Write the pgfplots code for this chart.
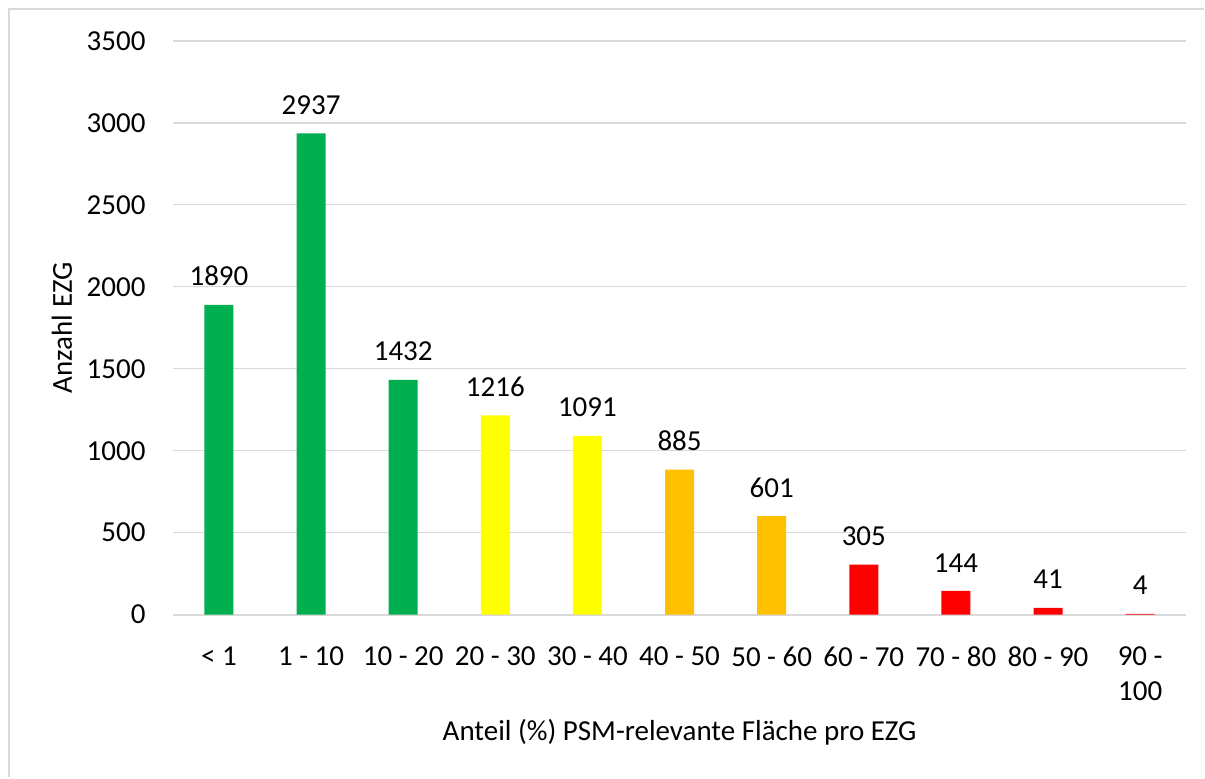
\documentclass[border=0pt]{standalone}
\usepackage{fontspec}
\setmainfont{Carlito}
\usepackage{pgfplots}
\pgfplotsset{compat=1.18}
\definecolor{cgreen}{HTML}{00B050}
\definecolor{cyellow}{HTML}{FFFF00}
\definecolor{corange}{HTML}{FFC000}
\definecolor{cred}{HTML}{FF0000}
\definecolor{gridc}{HTML}{D9D9D9}
\begin{document}
\begin{tikzpicture}
\path (0,0) rectangle (602.5pt,389pt);
\draw[gridc, line width=0.8pt] (4.5pt,0pt) -- (4.5pt,384.5pt) -- (602.5pt,384.5pt);
\begin{axis}[
  at={(86.5pt,81.5pt)}, anchor=south west,
  scale only axis, width=507pt, height=287pt,
  ybar, bar width=14.5pt,
  xmin=-0.5, xmax=10.5, ymin=0, ymax=3500,
  ytick={0,500,...,3500},
  xtick={0,...,10},
  xticklabels={{< 1},{1 - 10},{10 - 20},{20 - 30},{30 - 40},{40 - 50},{50 - 60},{60 - 70},{70 - 80},{80 - 90},{90 -\\100}},
  axis x line*=bottom, axis y line*=left,
  x axis line style={gridc, line width=1pt, -},
  y axis line style={draw=none},
  ymajorgrids, grid style={gridc, line width=0.6pt},
  major tick length=0pt,
  /pgf/number format/1000 sep={},
  /pgf/number format/assume math mode=true,
  tick label style={font=\fontsize{14.5}{17.5}\selectfont, text=black},
  xticklabel style={anchor=north, inner sep=0pt, yshift=-16pt, align=center},
  yticklabel style={anchor=east, inner sep=0pt, xshift=-13.5pt},
  ylabel={Anzahl EZG},
  ylabel style={at={(axis description cs:-0.1095,0.5)}, anchor=center, font=\fontsize{14.5}{17.5}\selectfont},
  xlabel={Anteil (\%) PSM-relevante Fläche pro EZG},
  xlabel style={at={(axis description cs:0.5,-0.2056)}, anchor=center, font=\fontsize{14.5}{17.5}\selectfont},
  nodes near coords,
  nodes near coords style={font=\fontsize{14.5}{17.5}\selectfont, anchor=base, inner sep=0pt, yshift=9.5pt, text=black},
  clip=false,
]
\addplot[fill=cgreen, draw=none, bar shift=0pt] coordinates {(0,1890) (1,2937) (2,1432)};
\addplot[fill=cyellow, draw=none, bar shift=0pt] coordinates {(3,1216) (4,1091)};
\addplot[fill=corange, draw=none, bar shift=0pt] coordinates {(5,885) (6,601)};
\addplot[fill=cred, draw=none, bar shift=0pt] coordinates {(7,305) (8,144) (9,41) (10,4)};
\end{axis}
\end{tikzpicture}
\end{document}
